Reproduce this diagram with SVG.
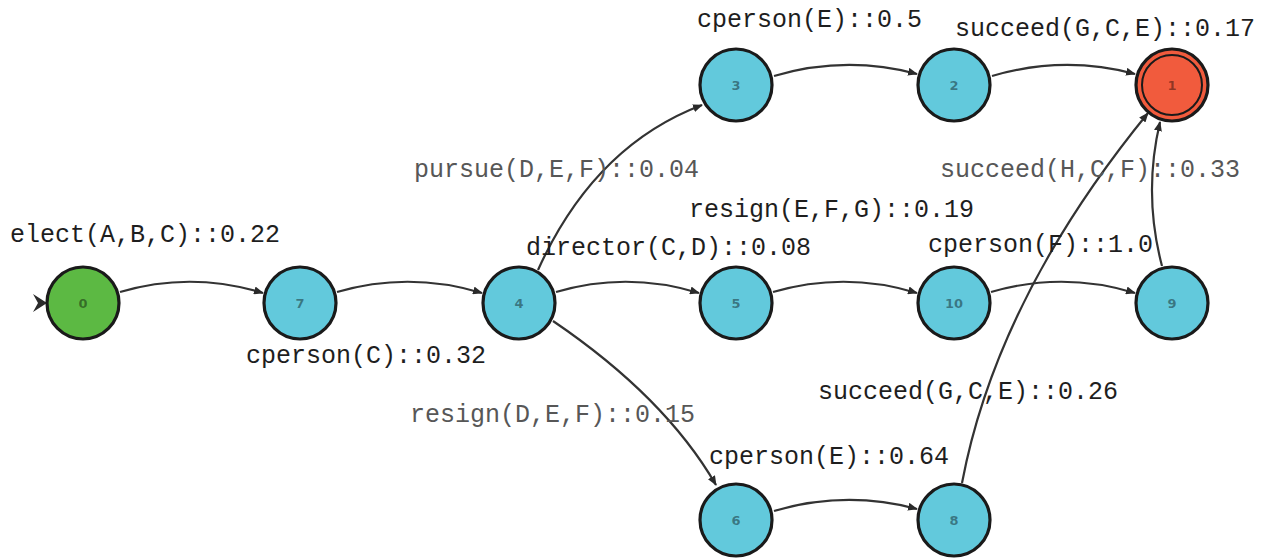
<svg xmlns="http://www.w3.org/2000/svg" width="1272" height="559" viewBox="0 0 1272 559">
<style>
.lbl{font-family:"Liberation Mono","Courier New",monospace;font-size:25px;fill:#1e1e1e}
.gry{fill:#575757}
.num{font-family:"DejaVu Sans","Liberation Sans",sans-serif;font-size:13px;font-weight:bold;fill:#000;fill-opacity:0.42;text-anchor:middle}
.st{stroke:#1a1a1a;stroke-width:3.2}
.cy{fill:#62c9dc}
.edge{fill:none;stroke:#333;stroke-width:2.2;marker-end:url(#ah)}
</style>
<defs>
<marker id="ah" viewBox="0 0 10 8" refX="9" refY="4" markerWidth="10" markerHeight="8" markerUnits="userSpaceOnUse" orient="auto">
<path d="M0,0 L10,4 L0,8 Z" fill="#2a2a2a"/>
</marker>
</defs>
<rect width="1272" height="559" fill="#fff"/>
<g id="connectors">
<path d="M33,294 L47,303 L33,312 L38,303 Z" fill="#2a2a2a"/>
<path class="edge" d="M120,292 Q191,271 263,293"/>
<path class="edge" d="M337,292 Q409,271 482,293"/>
<path class="edge" d="M556,292 Q627,271 699,293"/>
<path class="edge" d="M773,292 Q845,271 917,293"/>
<path class="edge" d="M991,292 Q1063,271 1135,293"/>
<path class="edge" d="M774,76 Q846,55 917,74"/>
<path class="edge" d="M992,76 Q1064,55 1135,74"/>
<path class="edge" d="M774,511 Q846,490 917,509"/>
<path class="edge" d="M538,270 Q594,146 702,105"/>
<path class="edge" d="M553,321 Q665,397 716,485"/>
<path class="edge" d="M962,483 Q997,298 1148,113"/>
<path class="edge" d="M1162,266 Q1143,194 1160,122"/>
</g>
<g id="node0"><circle cx="83" cy="303" r="36" fill="#5cb943" class="st"/><text class="num" x="83" y="308">0</text></g>
<g id="node7"><circle cx="300" cy="303" r="36" class="cy st"/><text class="num" x="300" y="308">7</text></g>
<g id="node4"><circle cx="519" cy="303" r="36" class="cy st"/><text class="num" x="519" y="308">4</text></g>
<g id="node5"><circle cx="736" cy="303" r="36" class="cy st"/><text class="num" x="736" y="308">5</text></g>
<g id="node10"><circle cx="954" cy="303" r="36" class="cy st"/><text class="num" x="954" y="308">10</text></g>
<g id="node9"><circle cx="1172" cy="303" r="36" class="cy st"/><text class="num" x="1172" y="308">9</text></g>
<g id="node3"><circle cx="736" cy="85" r="36" class="cy st"/><text class="num" x="736" y="90">3</text></g>
<g id="node2"><circle cx="954" cy="85" r="36" class="cy st"/><text class="num" x="954" y="90">2</text></g>
<g id="node1"><circle cx="1172" cy="85" r="36" fill="#f15b3d" class="st"/><circle cx="1172" cy="85" r="30" fill="none" stroke="#1a1a1a" stroke-width="2"/><text class="num" x="1172" y="90">1</text></g>
<g id="node6"><circle cx="736" cy="520" r="36" class="cy st"/><text class="num" x="736" y="525">6</text></g>
<g id="node8"><circle cx="954" cy="520" r="36" class="cy st"/><text class="num" x="954" y="525">8</text></g>
<g id="labels">
<text class="lbl" x="697" y="27">cperson(E)::0.5</text>
<text class="lbl" x="955" y="36">succeed(G,C,E)::0.17</text>
<text class="lbl gry" x="414" y="177">pursue(D,E,F)::0.04</text>
<text class="lbl gry" x="940" y="177">succeed(H,C,F)::0.33</text>
<text class="lbl" x="689" y="217">resign(E,F,G)::0.19</text>
<text class="lbl" x="10" y="242">elect(A,B,C)::0.22</text>
<text class="lbl" x="526" y="255">director(C,D)::0.08</text>
<text class="lbl" x="928" y="252">cperson(F)::1.0</text>
<text class="lbl" x="246" y="363">cperson(C)::0.32</text>
<text class="lbl" x="818" y="399">succeed(G,C,E)::0.26</text>
<text class="lbl gry" x="410" y="422">resign(D,E,F)::0.15</text>
<text class="lbl" x="709" y="464">cperson(E)::0.64</text>
</g>
</svg>
